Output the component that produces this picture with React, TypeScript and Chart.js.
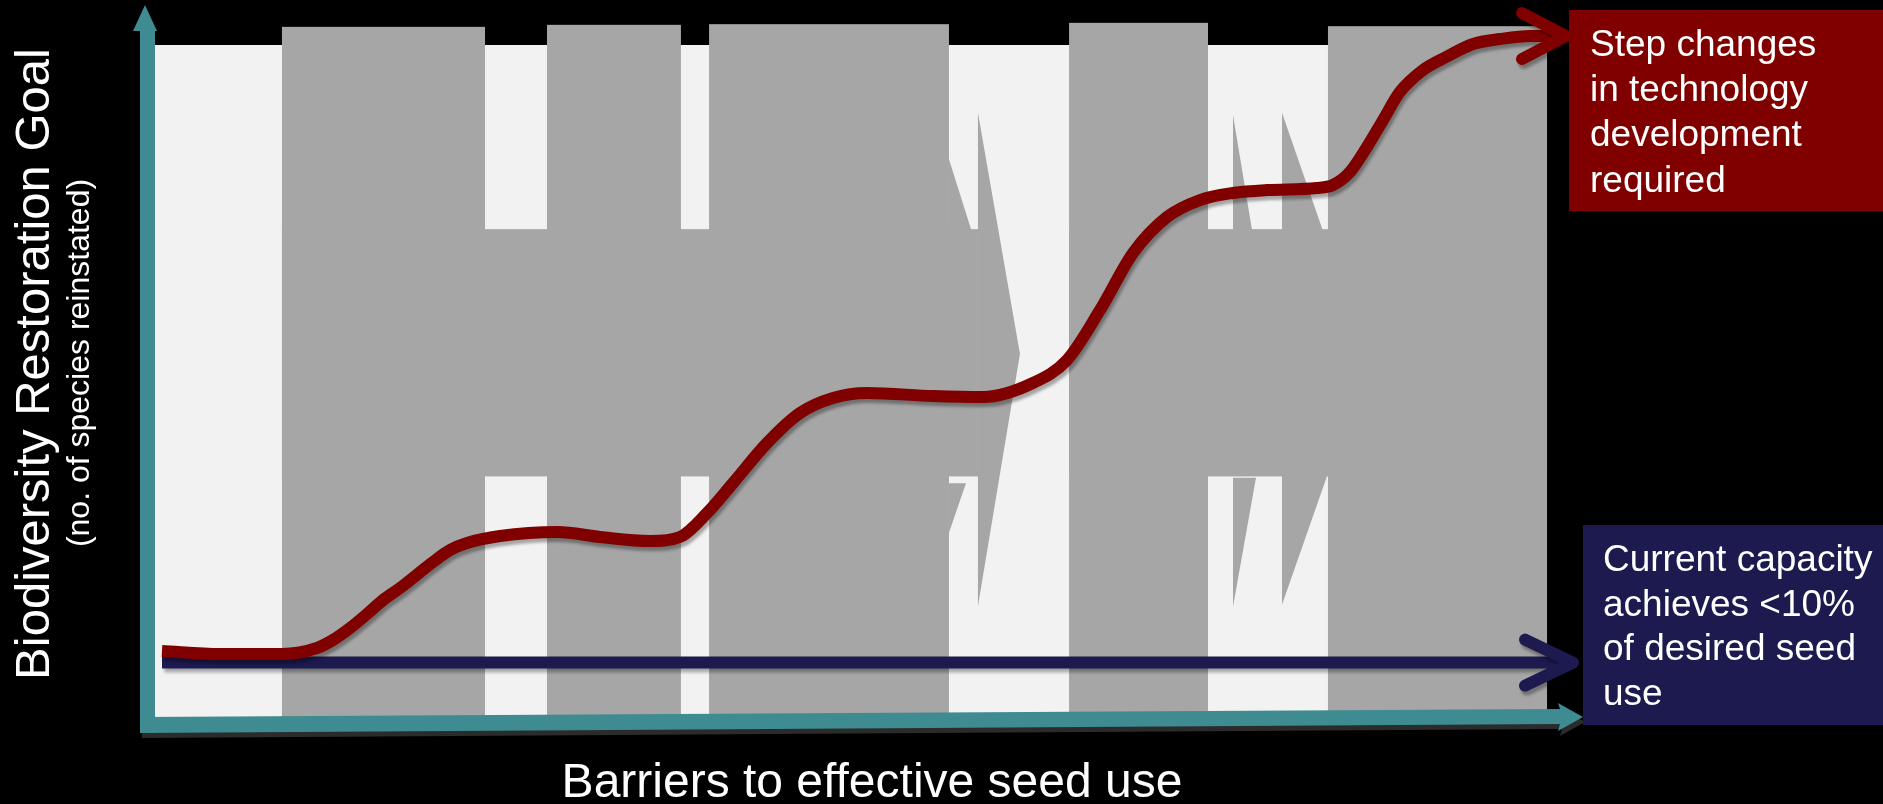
import { useEffect, useRef } from 'react';
import { Chart, registerables } from 'chart.js';

Chart.register(...registerables);

const CANVAS_W = 1883;
const CANVAS_H = 804;

// Step-change pathway: barriers overcome (x) vs restoration goal reached (y)
const stepX = [
  0.49, 4.55, 8.89, 11.34, 12.46, 13.66, 14.85, 15.97, 17.16, 19.47, 20.66, 21.85,
  24.16, 28.22, 31.16, 34.66, 36.76, 38.66, 40.48, 42.86, 45.17, 47.48, 49.86, 54.48,
  57.98, 61.48, 63.87, 66.18, 68.49, 70.87, 73.18, 75.49, 77.87, 81.37, 82.49,
  83.68, 84.87, 86.0, 87.18, 88.8, 90.41, 92.3, 94.19, 96.29, 98.39,
];
const stepY = [
  9.82, 9.38, 9.38, 10.27, 11.46, 13.24, 15.33, 17.41, 19.2, 23.07, 24.85, 25.89,
  26.93, 27.53, 26.79, 26.19, 26.79, 30.36, 34.82, 40.77, 45.24, 47.47, 48.21, 47.77,
  47.62, 49.7, 53.13, 60.57, 69.05, 74.4, 76.93, 77.98, 78.42, 78.72, 79.17,
  81.1, 84.82, 88.84, 93.01, 96.28, 98.21, 100.15, 100.89, 101.34, 101.34,
];

// Current capacity: flat
const capacityX = [0.49, 98.88];
const capacityY = [8.1, 8.1];

// Barrier columns (x extent and top)
const barrierFrom = [8.89, 27.45, 38.8, 64.01, 82.14];
const barrierTo = [23.11, 36.83, 55.6, 73.74, 97.48];
const barrierTop = [102.7, 103.0, 103.1, 103.3, 102.8];

// Horizontal barrier band pieces crossing the columns
const bandFrom = [8.89, 64.01];
const bandTo = [57.63, 97.48];
const bandTop = 72.6;
const bandBottom = 35.8;

// Light plot field
const fieldTo = 97.48;
const fieldTop = 100;

// Angled barrier fragments between columns
const fragments: [number, number][][] = [
  [[55.6, 83.0], [57.28, 71.7], [55.6, 71.7]],
  [[55.6, 27.4], [56.79, 34.8], [55.6, 34.8]],
  [[57.63, 89.9], [60.57, 54.0], [57.63, 16.5]],
  [[75.49, 89.6], [78.29, 53.6], [75.49, 53.6]],
  [[78.92, 89.9], [82.14, 70.2], [78.92, 70.2]],
  [[75.49, 35.6], [77.1, 35.6], [75.49, 16.4]],
  [[78.92, 37.1], [82.28, 37.1], [78.92, 16.7]],
];

const yTitle = 'Biodiversity Restoration Goal';
const ySubtitle = '(no. of species reinstated)';
const xTitle = 'Barriers to effective seed use';
const stepLabel = ['Step changes', 'in technology', 'development', 'required'];
const capacityLabel = ['Current capacity', 'achieves <10%', 'of desired seed', 'use'];

const FONT = '"Liberation Sans", Arial, Helvetica, sans-serif';
const TEAL = '#3e8b91';
const RED = '#800000';
const NAVY = '#1d1a50';
const LIGHT = '#f2f2f2';
const GREY = '#a6a6a6';

function setShadow(ctx: CanvasRenderingContext2D) {
  ctx.shadowColor = 'rgba(0,0,0,0.32)';
  ctx.shadowOffsetX = 2;
  ctx.shadowOffsetY = 4;
  ctx.shadowBlur = 3;
}

function chevron(ctx: CanvasRenderingContext2D, tx: number, ty: number, dx: number, up: number, down: number, color: string) {
  ctx.save();
  setShadow(ctx);
  ctx.strokeStyle = color;
  ctx.lineWidth = 12;
  ctx.lineCap = 'round';
  ctx.lineJoin = 'round';
  ctx.beginPath();
  ctx.moveTo(tx - dx, ty - up);
  ctx.lineTo(tx, ty);
  ctx.lineTo(tx - dx, ty + down);
  ctx.stroke();
  ctx.restore();
}

const diagramPlugin = {
  id: 'seedDiagram',
  beforeDraw(chart: any) {
    const { ctx, scales } = chart;
    const xs = scales.x;
    const ys = scales.y;
    const px = (v: number) => xs.getPixelForValue(v);
    const py = (v: number) => ys.getPixelForValue(v);
    ctx.save();
    ctx.fillStyle = '#000';
    ctx.fillRect(0, 0, chart.width, chart.height);

    ctx.fillStyle = LIGHT;
    ctx.fillRect(px(0), py(fieldTop), px(fieldTo) - px(0), py(0) - py(fieldTop));

    ctx.fillStyle = GREY;
    barrierFrom.forEach((f, i) => {
      ctx.fillRect(px(f), py(barrierTop[i]), px(barrierTo[i]) - px(f), py(0) - py(barrierTop[i]));
    });
    bandFrom.forEach((f, i) => {
      ctx.fillRect(px(f), py(bandTop), px(bandTo[i]) - px(f), py(bandBottom) - py(bandTop));
    });
    fragments.forEach((poly) => {
      ctx.beginPath();
      poly.forEach(([a, b], k) => (k ? ctx.lineTo(px(a), py(b)) : ctx.moveTo(px(a), py(b))));
      ctx.closePath();
      ctx.fill();
    });
    ctx.restore();
  },
  beforeDatasetsDraw(chart: any) {
    chart.ctx.save();
    setShadow(chart.ctx);
  },
  afterDatasetsDraw(chart: any) {
    const { ctx, chartArea } = chart;
    ctx.restore();

    // arrow heads at the end of each line
    const stepMeta = chart.getDatasetMeta(0);
    const stepEnd = stepMeta.data[stepMeta.data.length - 1];
    chevron(ctx, stepEnd.x + 6, stepEnd.y, 44, 23, 23, RED);
    const capMeta = chart.getDatasetMeta(1);
    const capEnd = capMeta.data[capMeta.data.length - 1];
    chevron(ctx, capEnd.x + 6, capEnd.y, 48, 23, 23, NAVY);

    // axes
    const L = chartArea.left - 15;
    const B = chartArea.bottom;
    const R = chartArea.right;
    const axisPath = (ox: number, oy: number) => {
      ctx.beginPath();
      ctx.moveTo(L + ox, B + oy);
      ctx.lineTo(R - 23 + ox, B - 8 + oy);
      ctx.lineTo(R - 25 + ox, B - 14 + oy);
      ctx.lineTo(R + ox, B + oy);
      ctx.lineTo(R - 25 + ox, B + 14 + oy);
      ctx.lineTo(R - 23 + ox, B + 7 + oy);
      ctx.lineTo(L + ox, B + 16 + oy);
      ctx.closePath();
      ctx.fill();
    };
    ctx.save();
    ctx.fillStyle = '#2b2b2b';
    axisPath(2, 5);
    ctx.fillStyle = TEAL;
    axisPath(0, 0);
    ctx.fillRect(L, 30, 15, B + 16 - 30);
    ctx.beginPath();
    ctx.moveTo(L - 7, 31);
    ctx.lineTo(L + 5, 5);
    ctx.lineTo(L + 17, 31);
    ctx.closePath();
    ctx.fill();
    ctx.restore();

    // axis titles
    ctx.save();
    ctx.fillStyle = '#fff';
    ctx.textAlign = 'center';
    ctx.textBaseline = 'alphabetic';
    ctx.font = `48px ${FONT}`;
    ctx.fillText(xTitle, 872, 797);
    ctx.save();
    ctx.translate(49, 364);
    ctx.rotate(-Math.PI / 2);
    ctx.font = `49px ${FONT}`;
    ctx.fillText(yTitle, 0, 0);
    ctx.restore();
    ctx.save();
    ctx.translate(89, 363);
    ctx.rotate(-Math.PI / 2);
    ctx.font = `32px ${FONT}`;
    ctx.fillText(ySubtitle, 0, 0);
    ctx.restore();
    ctx.restore();

    // callout boxes
    ctx.save();
    ctx.fillStyle = RED;
    ctx.fillRect(1569, 10, CANVAS_W - 1569, 201);
    ctx.fillStyle = NAVY;
    ctx.fillRect(1583, 525, CANVAS_W - 1583, 200);
    ctx.fillStyle = '#fff';
    ctx.font = `37px ${FONT}`;
    ctx.textAlign = 'left';
    stepLabel.forEach((t, i) => ctx.fillText(t, 1590, 56 + i * 45.2));
    capacityLabel.forEach((t, i) => ctx.fillText(t, 1603, 571 + i * 44.6));
    ctx.restore();
  },
};

export default function App() {
  const canvasRef = useRef<HTMLCanvasElement | null>(null);

  useEffect(() => {
    document.body.style.margin = '0';
    document.body.style.background = '#000';
    const canvas = canvasRef.current;
    if (!canvas) return;
    const chart = new Chart(canvas, {
      type: 'line',
      data: {
        datasets: [
          {
            label: 'Step changes in technology development',
            data: stepX.map((x, i) => ({ x, y: stepY[i] })),
            borderColor: RED,
            borderWidth: 12,
            pointRadius: 0,
            cubicInterpolationMode: 'monotone',
            clip: false,
          },
          {
            label: 'Current capacity',
            data: capacityX.map((x, i) => ({ x, y: capacityY[i] })),
            borderColor: NAVY,
            borderWidth: 12,
            pointRadius: 0,
            clip: false,
          },
        ],
      },
      options: {
        responsive: false,
        animation: false,
        devicePixelRatio: 1,
        events: [],
        layout: { padding: { left: 155, right: 300, top: 45, bottom: 87 } },
        scales: {
          x: { type: 'linear', min: 0, max: 100, display: false },
          y: { type: 'linear', min: 0, max: 100, display: false },
        },
        plugins: { legend: { display: false }, tooltip: { enabled: false } },
      },
      plugins: [diagramPlugin],
    } as any);
    return () => chart.destroy();
  }, []);

  return (
    <div style={{ width: CANVAS_W, height: CANVAS_H, background: '#000' }}>
      <canvas ref={canvasRef} width={CANVAS_W} height={CANVAS_H} style={{ display: 'block' }} />
    </div>
  );
}
